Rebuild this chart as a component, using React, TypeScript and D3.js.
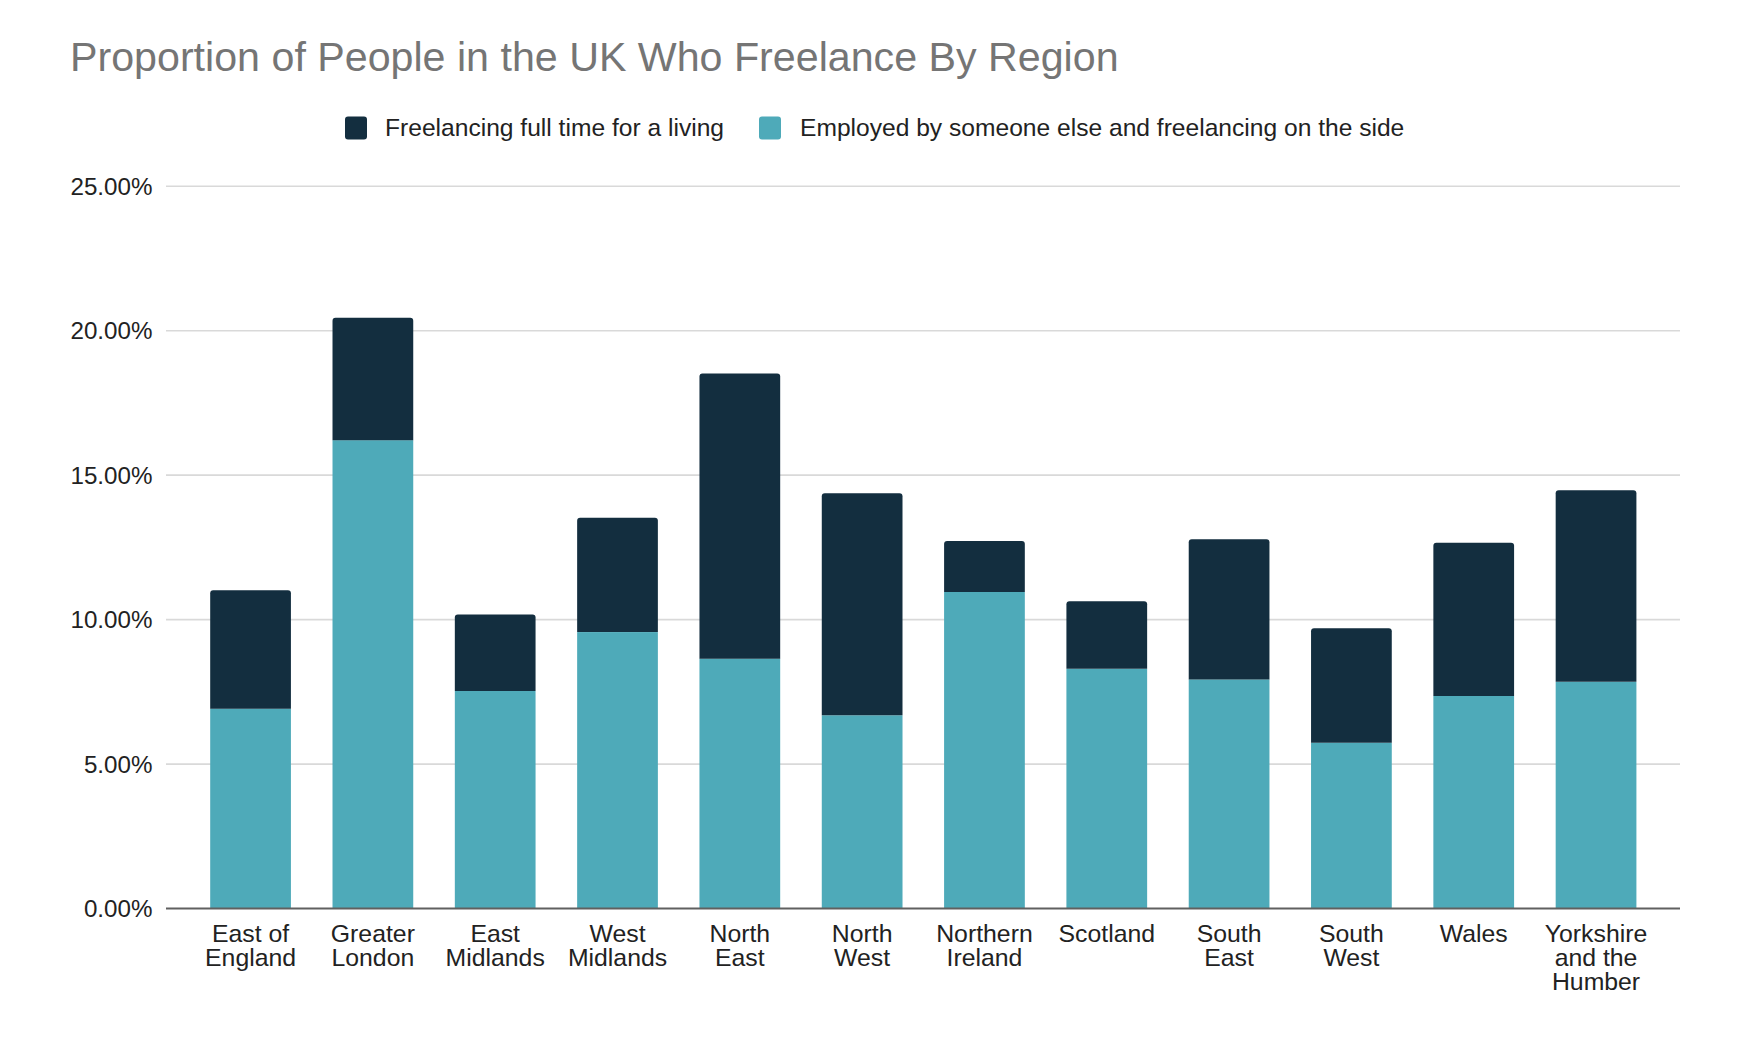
import React, { useEffect, useRef } from "react";
import * as d3 from "d3";

const categories = [
  "East of England",
  "Greater London",
  "East Midlands",
  "West Midlands",
  "North East",
  "North West",
  "Northern Ireland",
  "Scotland",
  "South East",
  "South West",
  "Wales",
  "Yorkshire and the Humber",
];

// percentages
const employedOnSide = [6.92, 16.21, 7.53, 9.57, 8.65, 6.69, 10.96, 8.3, 7.93, 5.74, 7.36, 7.85];
const fullTime = [4.1, 4.24, 2.65, 3.96, 9.87, 7.68, 1.76, 2.34, 4.85, 3.96, 5.3, 6.63];

const yTicks = [0, 5, 10, 15, 20, 25];

const seriesNames = [
  "Freelancing full time for a living",
  "Employed by someone else and freelancing on the side",
];

const DARK = "#132e3f";
const TEAL = "#4eaab9";
const FONT = "'Liberation Sans', Arial, Helvetica, sans-serif";

// greedy word wrap, like the sheet does for narrow bands
const wrap = (label: string, maxChars: number) => {
  const lines: string[] = [];
  let cur = "";
  label.split(" ").forEach((w) => {
    if (cur && (cur + " " + w).length > maxChars) {
      lines.push(cur);
      cur = w;
    } else {
      cur = cur ? cur + " " + w : w;
    }
  });
  if (cur) lines.push(cur);
  return lines;
};

const topRoundedRect = (x: number, y: number, w: number, h: number, r: number) => {
  const rr = Math.min(r, h, w / 2);
  return `M${x},${y + h}V${y + rr}Q${x},${y} ${x + rr},${y}H${x + w - rr}Q${x + w},${y} ${x + w},${y + rr}V${y + h}Z`;
};

const Chart: React.FC = () => {
  const svgRef = useRef<SVGSVGElement | null>(null);

  useEffect(() => {
    document.body.style.margin = "0";
    const width = 1748;
    const height = 1042;
    const gridLeft = 166;
    const gridRight = 1680;

    const svg = d3.select(svgRef.current);
    svg.selectAll("*").remove();
    svg.attr("width", width).attr("height", height);

    svg.append("rect").attr("width", width).attr("height", height).attr("fill", "#ffffff");

    // title
    svg
      .append("text")
      .attr("x", 70)
      .attr("y", 71)
      .attr("font-family", FONT)
      .attr("font-size", 41.2)
      .attr("fill", "#757575")
      .text("Proportion of People in the UK Who Freelance By Region");

    const x = d3
      .scaleBand<string>()
      .domain(categories)
      .range([189.4, 1657.2])
      .paddingInner(0.34)
      .paddingOuter(0.17);

    const y = d3.scaleLinear().domain([0, 25]).range([908.6, 186.2]);

    // gridlines
    svg
      .append("g")
      .selectAll("line")
      .data(yTicks.filter((t) => t !== 0))
      .enter()
      .append("line")
      .attr("x1", gridLeft)
      .attr("x2", gridRight)
      .attr("y1", (d) => y(d))
      .attr("y2", (d) => y(d))
      .attr("stroke", "#d9d9d9")
      .attr("stroke-width", 1.6);

    // y tick labels
    svg
      .append("g")
      .selectAll("text")
      .data(yTicks)
      .enter()
      .append("text")
      .attr("x", 152.5)
      .attr("y", (d) => y(d))
      .attr("dy", "0.36em")
      .attr("text-anchor", "end")
      .attr("font-family", FONT)
      .attr("font-size", 24.2)
      .attr("fill", "#222222")
      .text((d) => d3.format(".2f")(d) + "%");

    const rows = categories.map((c, i) => ({
      cat: c,
      side: employedOnSide[i],
      full: fullTime[i],
    }));

    const bars = svg.append("g");
    const bw = x.bandwidth();

    // employed + side freelancing (bottom segment)
    bars
      .selectAll("rect.side")
      .data(rows)
      .enter()
      .append("rect")
      .attr("class", "side")
      .attr("x", (d) => x(d.cat) as number)
      .attr("y", (d) => y(d.side))
      .attr("width", bw)
      .attr("height", (d) => y(0) - y(d.side))
      .attr("fill", TEAL);

    // full time freelancing (top segment, rounded top corners)
    bars
      .selectAll("path.full")
      .data(rows)
      .enter()
      .append("path")
      .attr("class", "full")
      .attr("d", (d) =>
        topRoundedRect(
          x(d.cat) as number,
          y(d.side + d.full),
          bw,
          y(d.side) - y(d.side + d.full),
          3
        )
      )
      .attr("fill", DARK);

    // baseline
    svg
      .append("line")
      .attr("x1", gridLeft)
      .attr("x2", gridRight)
      .attr("y1", y(0))
      .attr("y2", y(0))
      .attr("stroke", "#606060")
      .attr("stroke-width", 2);

    // category labels
    const labels = svg
      .append("g")
      .selectAll("text")
      .data(categories)
      .enter()
      .append("text")
      .attr("text-anchor", "middle")
      .attr("font-family", FONT)
      .attr("font-size", 24.8)
      .attr("fill", "#222222");

    labels.each(function (d) {
      const cx = (x(d) as number) + bw / 2;
      d3.select(this)
        .selectAll("tspan")
        .data(wrap(d, 9))
        .enter()
        .append("tspan")
        .attr("x", cx)
        .attr("y", (_l, i) => 941.5 + i * 24.4)
        .text((l) => l);
    });

    // legend
    const legend = svg.append("g").attr("font-family", FONT).attr("font-size", 24.6);
    const legendItems = [
      { name: seriesNames[0], color: DARK, sx: 345, tx: 385 },
      { name: seriesNames[1], color: TEAL, sx: 759, tx: 800 },
    ];
    legendItems.forEach((it) => {
      legend
        .append("rect")
        .attr("x", it.sx)
        .attr("y", 116.5)
        .attr("width", 22)
        .attr("height", 23)
        .attr("rx", 3)
        .attr("fill", it.color);
      legend
        .append("text")
        .attr("x", it.tx)
        .attr("y", 135.5)
        .attr("fill", "#222222")
        .text(it.name);
    });
  }, []);

  return <svg ref={svgRef} style={{ display: "block" }} />;
};

export default function App() {
  return <Chart />;
}
